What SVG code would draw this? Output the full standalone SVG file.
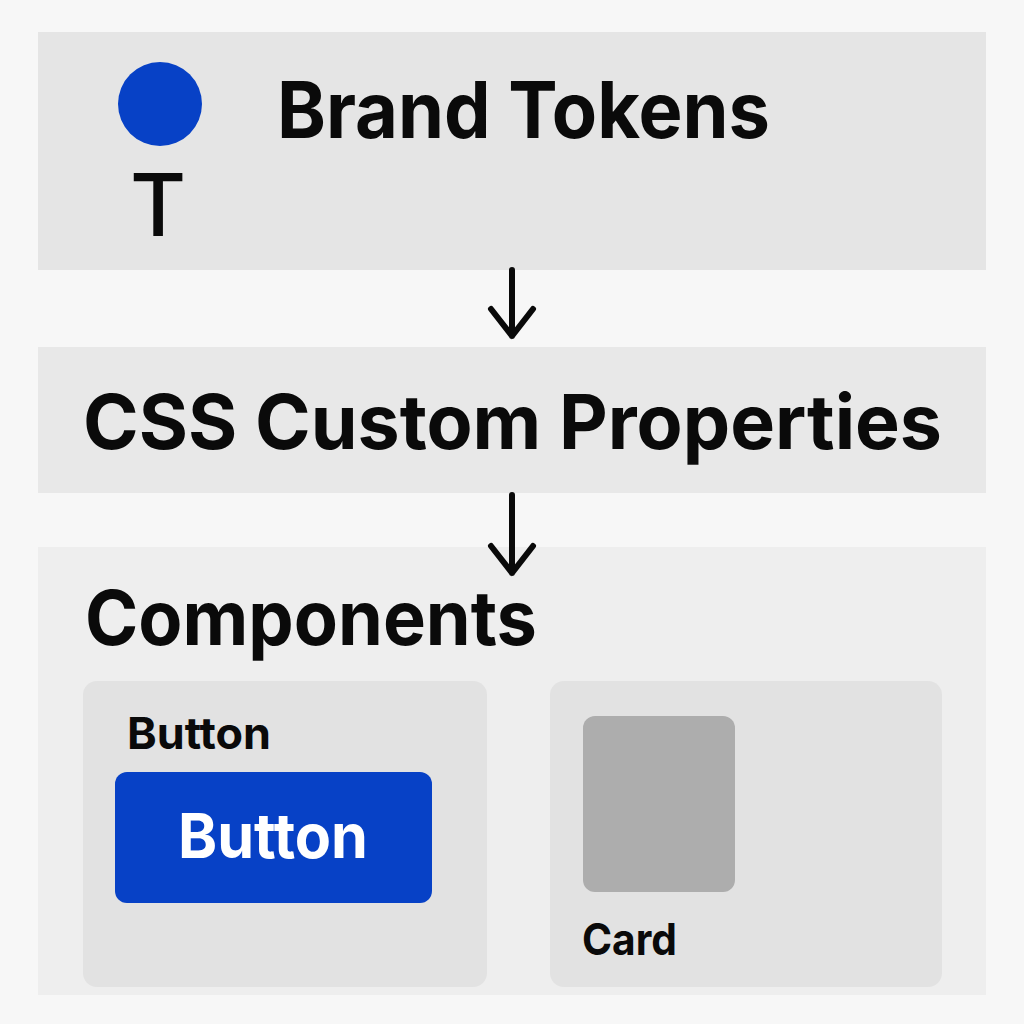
<svg xmlns="http://www.w3.org/2000/svg" width="1024" height="1024" viewBox="0 0 1024 1024">
<style>
.t{font-family:Inter,"Liberation Sans",Arial,sans-serif;font-weight:700;fill:#0a0a0a}
.m{font-weight:500}
.w{fill:#ffffff}
.c{stroke:#0a0a0a;stroke-width:6;fill:none;stroke-linecap:round;stroke-linejoin:round}
</style>
<rect width="1024" height="1024" fill="#f7f7f7"/>
<g id="brand-tokens">
<rect x="38" y="32" width="948" height="238" fill="#e5e5e5"/>
<ellipse cx="160" cy="104" rx="42" ry="42" fill="#0741c6"/>
<text class="t m" x="158" y="236" font-size="86" text-anchor="middle">T</text>
<text class="t" x="277" y="138" font-size="78" textLength="493" lengthAdjust="spacingAndGlyphs">Brand Tokens</text>
</g>
<g id="css-custom-properties">
<rect x="38" y="347" width="948" height="146" fill="#e8e8e8"/>
<text class="t" x="83" y="449" font-size="76" textLength="859" lengthAdjust="spacingAndGlyphs">CSS Custom Properties</text>
</g>
<g id="components">
<rect x="38" y="547" width="948" height="448" fill="#eeeeee"/>
<text class="t" x="85" y="645" font-size="76" textLength="452" lengthAdjust="spacingAndGlyphs">Components</text>
</g>
<g id="button">
<rect x="83" y="681" width="404" height="306" rx="14" fill="#e2e2e2"/>
<text class="t" x="127" y="749" font-size="44" textLength="144" lengthAdjust="spacingAndGlyphs">Button</text>
<rect x="115" y="772" width="317" height="131" rx="12" fill="#0741c6"/>
<text class="t w" x="178" y="858" font-size="62" textLength="190" lengthAdjust="spacingAndGlyphs">Button</text>
</g>
<g id="card">
<rect x="550" y="681" width="392" height="306" rx="14" fill="#e2e2e2"/>
<rect x="583" y="716" width="152" height="176" rx="12" fill="#adadad"/>
<text class="t" x="582" y="955" font-size="44" textLength="95" lengthAdjust="spacingAndGlyphs">Card</text>
</g>
<g id="connectors">
<path class="c" d="M512 270 V336 M491 309 L512 336 L533 309"/>
<path class="c" d="M512 495 V573 M491 546 L512 573 L533 546"/>
</g>
</svg>
